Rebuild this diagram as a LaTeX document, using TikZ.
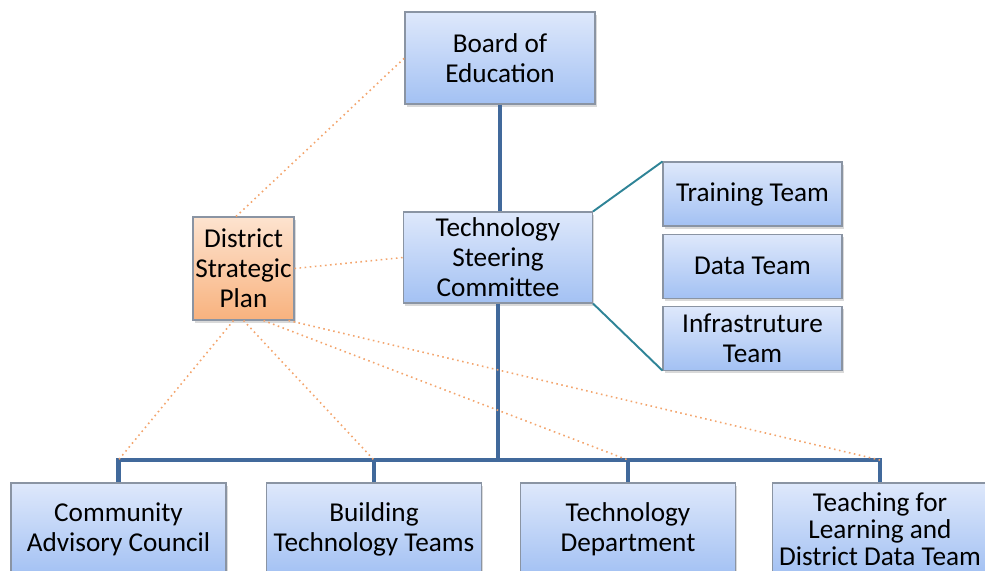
\documentclass[tikz,border=0pt]{standalone}
\usepackage{fontspec}
\setmainfont{Carlito}
\usetikzlibrary{positioning,shadows}
\definecolor{bluetop}{HTML}{DEE8FB}
\definecolor{bluebot}{HTML}{A3C1F3}
\definecolor{orangetop}{HTML}{FDE3CF}
\definecolor{orangebot}{HTML}{F8B27E}
\definecolor{boxedge}{HTML}{8A94A3}
\definecolor{trunkblue}{HTML}{41699B}
\definecolor{tealline}{HTML}{2F8497}
\definecolor{dotorange}{HTML}{F3A46C}
\begin{document}
\begin{tikzpicture}[
      x=0.02cm, y=-0.02cm,
      node distance=0.14cm,
      box/.style={
        draw=boxedge,
        line width=0.6pt,
        top color=bluetop,
        bottom color=bluebot,
        align=center,
        inner sep=0pt,
        font=\fontsize{15.5}{17}\selectfont,
        drop shadow={opacity=0.3, shadow xshift=1pt, shadow yshift=-1.5pt}
      },
      team/.style={
        box,
        minimum width=3.58cm,
        minimum height=1.28cm
      },
      unit/.style={
        box,
        minimum width=4.3cm,
        minimum height=1.84cm
      },
      plan/.style={
        box,
        top color=orangetop,
        bottom color=orangebot,
        minimum width=2.02cm,
        minimum height=2.06cm
      },
      trunk/.style={
        draw=trunkblue,
        line width=2.8pt
      },
      branch/.style={
        draw=tealline,
        line width=1.1pt
      },
      link/.style={
        draw=dotorange,
        dotted,
        line width=0.9pt
      }
    ]
    \useasboundingbox (0,0) rectangle (985,571);
    \clip (0,0) rectangle (985,571);

    \node[box, minimum width=3.8cm, minimum height=1.84cm] (board) at (500,58) {Board of\\Education} ;
    \node[box, minimum width=3.78cm, minimum height=1.82cm] (tsc) at (498,257.5) {Technology\\Steering\\Committee} ;
    \node[team] (training) at (752.5,194) {Training Team} ;
    \node[team, below=of training] (data) {Data Team} ;
    \node[team, below=of data] (infra) {Infrastruture\\Team} ;
    \node[plan] (dsp) at (243.5,268.5) {District\\Strategic\\Plan} ;

    \node[unit] (cac) at (118.5,529) {Community\\Advisory Council} ;
    \node[unit] (btt) at (374,529) {Building\\Technology Teams} ;
    \node[unit] (tdp) at (628,529) {Technology\\Department} ;
    \node[unit, font=\fontsize{15.5}{15.5}\selectfont] (tld) at (880,529) {Teaching for\\Learning and\\District Data Team} ;

    \coordinate (bar) at (0,460);
    \coordinate (j1) at (cac.north |- bar);
    \coordinate (j2) at (btt.north |- bar);
    \coordinate (j3) at (tdp.north |- bar);
    \coordinate (j4) at (tld.north |- bar);

    % main line
    \draw[trunk] (board.south) -- (board.south |- tsc.north);
    \draw[trunk] (tsc.south) -- (tsc.south |- bar);
    \draw[trunk] (cac.north) -- (j1) -- (j4) -- (tld.north);
    \draw[trunk] (btt.north) -- (j2);
    \draw[trunk] (tdp.north) -- (j3);

    % teams
    \draw[branch] (tsc.north east) -- (training.north west);
    \draw[branch] (tsc.south east) -- (infra.south west);

    % plan links
    \draw[link] ([xshift=-0.15cm]dsp.north) -- (board.west);
    \draw[link] (dsp.east) -- (tsc.west);
    \draw[link] ([xshift=-0.2cm]dsp.south) -- (j1);
    \draw[link] (dsp.south) -- (j2);
    \draw[link] ([xshift=0.4cm]dsp.south) -- (j3);
    \draw[link] ([xshift=0.9cm]dsp.south) -- (j4);

  \end{tikzpicture}
\end{document}
